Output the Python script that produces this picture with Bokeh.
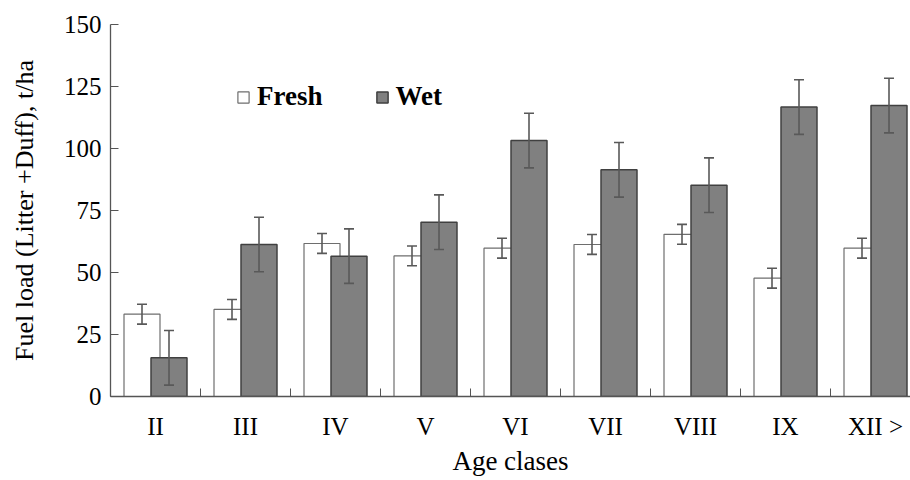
from bokeh.plotting import figure
from bokeh.models import ColumnDataSource, Whisker, TeeHead, FixedTicker, Legend, LegendItem, Range1d
from bokeh.embed import file_html
from bokeh.resources import INLINE

categories = ["II", "III", "IV", "V", "VI", "VII", "VIII", "IX", "XII >"]
fresh = [33.2, 35.1, 61.7, 56.7, 59.8, 61.3, 65.4, 47.7, 59.8]
fresh_err = [4.0, 4.0, 4.0, 4.0, 4.0, 4.0, 4.0, 4.0, 4.0]
wet = [15.6, 61.3, 56.6, 70.3, 103.2, 91.4, 85.2, 116.7, 117.3]
wet_err = [11.0, 11.0, 11.0, 11.0, 11.0, 11.0, 11.0, 11.0, 11.0]
y_ticks = [0, 25, 50, 75, 100, 125, 150]

FONT = "Liberation Serif"
centers = [i + 0.5 for i in range(len(categories))]
xf = [c - 0.15 for c in centers]
xw = [c + 0.15 for c in centers]

src_f = ColumnDataSource(dict(x=xf, top=fresh,
                              lo=[v - e for v, e in zip(fresh, fresh_err)],
                              hi=[v + e for v, e in zip(fresh, fresh_err)]))
src_w = ColumnDataSource(dict(x=xw, top=wet,
                              lo=[v - e for v, e in zip(wet, wet_err)],
                              hi=[v + e for v, e in zip(wet, wet_err)]))

p = figure(width=910, height=480, output_backend="svg", toolbar_location=None,
           x_range=Range1d(0, 800 / 90), y_range=Range1d(0, 150),
           min_border_left=110, min_border_right=0, min_border_top=24, min_border_bottom=84)
p.outline_line_color = None
p.xgrid.grid_line_color = None
p.ygrid.grid_line_color = None
p.background_fill_color = "white"

rf = p.vbar(x="x", top="top", width=0.4, bottom=0, source=src_f,
            fill_color="white", line_color="#6e6e6e", line_width=1.2)
rw = p.vbar(x="x", top="top", width=0.4, bottom=0, source=src_w,
            fill_color="#808080", line_color="#404040", line_width=1.5)
for s in (src_f, src_w):
    p.add_layout(Whisker(base="x", upper="hi", lower="lo", source=s, level="annotation",
                         line_color="#595959", line_width=1.6,
                         upper_head=TeeHead(size=10, line_color="#595959", line_width=1.6),
                         lower_head=TeeHead(size=10, line_color="#595959", line_width=1.6)))

# x axis
xa = p.xaxis[0]
xa.ticker = FixedTicker(ticks=centers, minor_ticks=[float(i) for i in range(0, 10)])
xa.major_label_overrides = {c: lab for c, lab in zip(centers, categories)}
xa.major_tick_line_color = None
xa.minor_tick_in = 8
xa.minor_tick_out = 0
xa.minor_tick_line_color = "#555555"
xa.axis_line_color = "#555555"
xa.axis_line_width = 1.3
xa.major_label_text_font = FONT
xa.major_label_text_font_size = "25px"
xa.major_label_text_color = "black"
xa.major_label_standoff = 10
xa.axis_label = "Age clases"
xa.axis_label_text_font = FONT
xa.axis_label_text_font_size = "27px"
xa.axis_label_text_font_style = "normal"
xa.axis_label_text_color = "black"
xa.axis_label_standoff = 3

# y axis
ya = p.yaxis[0]
ya.ticker = FixedTicker(ticks=y_ticks)
ya.major_tick_in = 8
ya.major_tick_out = 0
ya.minor_tick_line_color = None
ya.major_tick_line_color = "#555555"
ya.axis_line_color = "#555555"
ya.axis_line_width = 1.3
ya.major_label_text_font = FONT
ya.major_label_text_font_size = "25px"
ya.major_label_text_color = "black"
ya.major_label_standoff = 9
ya.axis_label = "Fuel load (Litter +Duff), t/ha"
ya.axis_label_text_font = FONT
ya.axis_label_text_font_size = "26px"
ya.axis_label_text_font_style = "normal"
ya.axis_label_text_color = "black"
ya.axis_label_standoff = 22

legend = Legend(items=[LegendItem(label="Fresh", renderers=[rf]),
                       LegendItem(label="Wet", renderers=[rw])],
                orientation="horizontal", location=(126, 284),
                glyph_width=14, glyph_height=14, label_standoff=7, spacing=52,
                padding=0, margin=0, border_line_color=None, background_fill_alpha=0,
                label_text_font=FONT, label_text_font_size="27px",
                label_text_font_style="bold", label_text_color="black")
p.add_layout(legend)

open("out.html", "w").write(file_html(p, INLINE))
